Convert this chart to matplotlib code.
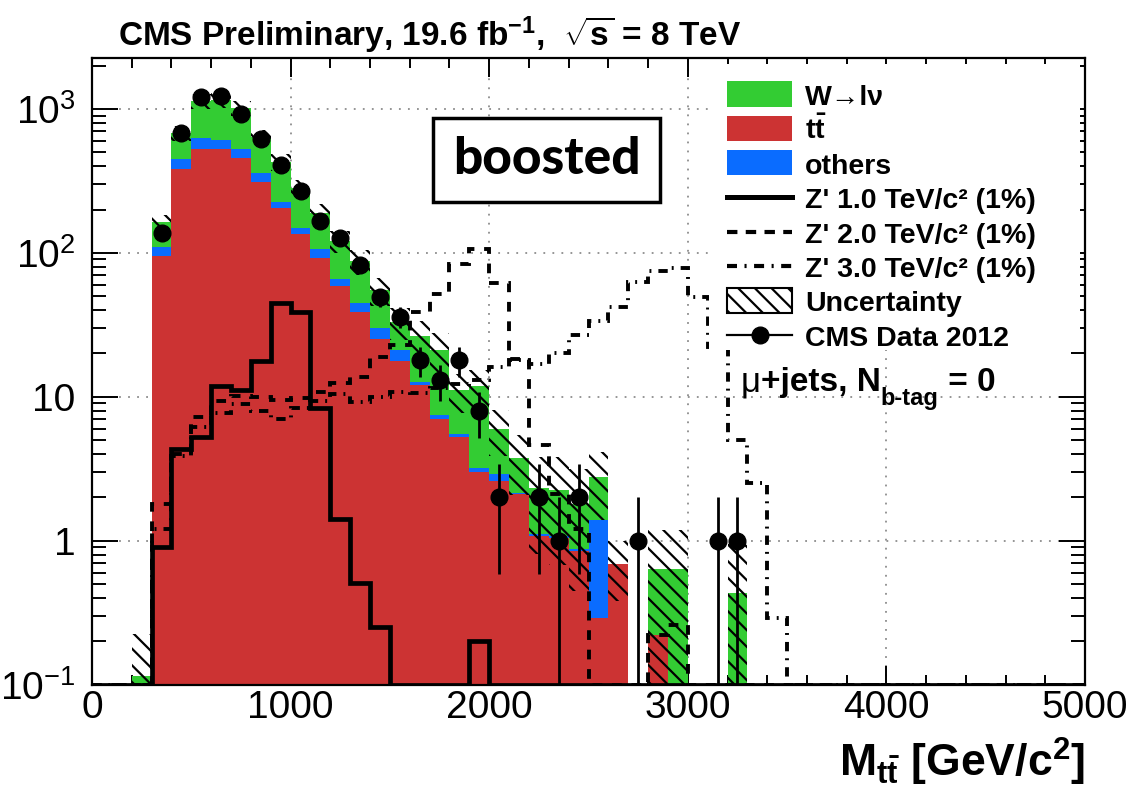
import numpy as np
import matplotlib
matplotlib.use("Agg")
import matplotlib.pyplot as plt
from matplotlib.lines import Line2D
from matplotlib.patches import Rectangle
from matplotlib.ticker import LogLocator, NullFormatter, FixedLocator, MultipleLocator

plt.rcParams['font.family'] = ['Liberation Sans', 'DejaVu Sans']
plt.rcParams['mathtext.fontset'] = 'custom'
plt.rcParams['mathtext.rm'] = 'Liberation Sans'
plt.rcParams['mathtext.bf'] = 'Liberation Sans:bold'
plt.rcParams['mathtext.it'] = 'Liberation Sans:italic'
plt.rcParams['hatch.linewidth'] = 1.6

# ---------------- data (100 GeV bins, lists start at the 200 GeV bin) -------------
BIN_WIDTH = 100
X_MAX = 5000
FIRST_EDGE = 200
Y_MIN, Y_MAX = 0.1, 2280

ttbar = [0, 95, 384, 525, 525, 456, 311, 205, 136, 92, 59, 39, 25, 17.6, 12.0, 7.0,
         5.25, 3.0, 2.6, 2.1, 1.08, 1.05, 0.85, 0.29, 0.69, 0, 0.22, 0, 0, 0, 0]
others = [0, 14, 65, 100, 83, 69, 46, 21, 13, 14, 7, 6, 5, 3.4, 0.6, 0.5,
          0.25, 0.2, 0.3, 0.05, 0.03, 0.03, 0.03, 1.09, 0, 0, 0, 0, 0, 0, 0]
wjets = [0.115, 55, 229, 512, 548, 486, 279, 204, 132, 82, 55, 42.5, 25, 12, 13.7, 13.8,
         5.6, 8.6, 3.1, 1.6, 1.2, 1.17, 0.92, 1.38, 0, 0, 0.42, 0.64, 0, 0, 0.43]
unc_rel = [0.95, 0.12, 0.12, 0.12, 0.12, 0.12, 0.13, 0.14, 0.15, 0.16, 0.18, 0.2, 0.22, 0.25, 0.28, 0.3,
           0.3, 0.3, 0.35, 0.45, 0.65, 0.7, 0.75, 0.5, 0.45, 0, 0.85, 0.85, 0, 0, 1.2]
data = [0, 138, 684, 1205, 1230, 924, 618, 405, 268, 166, 127, 83, 49, 36, 18, 13,
        18, 8, 2, 0, 2, 1, 2, 0, 0, 1, 0, 0, 0, 1, 1]
zprime_1000 = [0, 0.91, 4.3, 5.25, 11.9, 11.2, 17.6, 44.9, 38.8, 8.3, 1.42, 0.51, 0.25, 0, 0, 0,
               0, 0.2]
zprime_2000 = [0, 1.8, 4.0, 7.2, 9.4, 10.1, 10.0, 9.5, 9.8, 10.8, 12.4, 13.7, 19, 22.8, 39, 52,
               84, 107, 62, 18.4, 4.6, 2.1, 1.2, 0, 0, 0, 0.22, 0.26]
zprime_3000 = [0, 1.2, 3.9, 6.2, 7.7, 8.9, 8.0, 7.0, 8.3, 9.4, 10.5, 9.2, 10.0, 10.8, 10.7, 11.5,
               12.3, 13, 16, 18, 16.8, 20, 27, 33.6, 42, 63, 75, 78, 49, 22, 5.0, 2.5, 0.29]

legend_labels = ["W→lν", r"$\mathbf{t\bar{t}}$", "others",
                 "Z' 1.0 TeV/c² (1%)", "Z' 2.0 TeV/c² (1%)", "Z' 3.0 TeV/c² (1%)",
                 "Uncertainty", "CMS Data 2012"]

RED, BLUE, GREEN = '#CC3333', '#0A6CFF', '#33CC33'

edges = np.arange(0, X_MAX + BIN_WIDTH, BIN_WIDTH)
nbins = len(edges) - 1
centers = edges[:-1] + BIN_WIDTH / 2


def to_full(vals):
    arr = np.zeros(nbins)
    i0 = FIRST_EDGE // BIN_WIDTH
    arr[i0:i0 + len(vals)] = vals
    return arr


# ---------------- figure / axes geometry (pixels) -----------------
FIG_W, FIG_H = 1130, 792
AX_L, AX_R, AX_T, AX_B = 92, 1085, 57.5, 684.5

fig = plt.figure(figsize=(FIG_W / 100, FIG_H / 100), dpi=100)
ax = fig.add_axes([AX_L / FIG_W, 1 - AX_B / FIG_H, (AX_R - AX_L) / FIG_W, (AX_B - AX_T) / FIG_H])


def af(px, py):
    return ((px - AX_L) / (AX_R - AX_L), (AX_B - py) / (AX_B - AX_T))


ax.set_yscale('log')
ax.set_xlim(0, X_MAX)
ax.set_ylim(Y_MIN, Y_MAX)

# stacked backgrounds
tt = to_full(ttbar)
ot = to_full(others)
wj = to_full(wjets)
c1 = tt
c2 = tt + ot
c3 = c2 + wj
ax.stairs(c1, edges, baseline=1e-3, fill=True, color=RED, lw=0, zorder=1)
ax.stairs(c2, edges, baseline=c1, fill=True, color=BLUE, lw=0, zorder=1)
ax.stairs(c3, edges, baseline=c2, fill=True, color=GREEN, lw=0, zorder=1)

# uncertainty band
rel = to_full(unc_rel)
lo = np.clip(c3 * (1 - rel), 1e-3, None)
hi = c3 * (1 + rel)
m = c3 > 0
ax.bar(edges[:-1][m], (hi - lo)[m], bottom=lo[m], width=BIN_WIDTH, align='edge',
       fill=False, hatch='\\\\', edgecolor='black', linewidth=0, zorder=2)

# Z' signals
ax.stairs(np.maximum(to_full(zprime_1000), Y_MIN), edges, baseline=None,
          color='black', lw=3.4, zorder=3)
ax.stairs(np.maximum(to_full(zprime_2000), Y_MIN), edges, baseline=None,
          color='black', lw=2.8, linestyle=(0, (2.5, 2.5)), zorder=3)
ax.stairs(np.maximum(to_full(zprime_3000), Y_MIN), edges, baseline=None,
          color='black', lw=2.8, linestyle=(0, (2.4, 1.8, 0.5, 1.8)), zorder=3)

# data
d = to_full(data)
md = d > 0
ax.errorbar(centers[md], d[md], yerr=np.sqrt(d[md]), fmt='o', color='black', ms=12,
            elinewidth=2, capsize=0, zorder=5)

# axes styling
ax.set_axisbelow(True)
ax.grid(True, which='major', color='#8c8c8c', linestyle=(0, (1, 4)), linewidth=1.3)
ax.set_xticks(np.arange(0, X_MAX + 1, 1000))
ax.xaxis.set_minor_locator(MultipleLocator(200))
ax.yaxis.set_major_locator(FixedLocator([0.1, 1, 10, 100, 1000]))
ax.set_yticklabels([r'$10^{-1}$', '1', '10', r'$10^{2}$', r'$10^{3}$'])
ax.yaxis.set_minor_locator(LogLocator(base=10, subs=np.arange(2, 10)))
ax.yaxis.set_minor_formatter(NullFormatter())
ax.tick_params(which='both', direction='in', top=True, right=True, width=1.4,
               labelsize=28, colors='black')
ax.tick_params(axis='y', which='major', length=19, pad=12)
ax.tick_params(axis='y', which='minor', length=10)
ax.tick_params(axis='x', which='major', length=14, pad=4)
ax.tick_params(axis='x', which='minor', length=7)
for s in ax.spines.values():
    s.set_linewidth(1.6)

ax.set_xlabel(r"$\mathbf{M_{t\bar{t}}}$ [GeV/c$^{\mathbf{2}}$]", fontsize=32, fontweight='bold',
              ha='right', va='baseline')
ax.xaxis.set_label_coords(1.0, af(0, 777)[1])

# title
fig.text(118 / FIG_W, 1 - 46 / FIG_H,
         r"CMS Preliminary, 19.6 fb$^{\mathbf{-1}}$,  $\sqrt{\mathbf{s}}$ = 8 TeV",
         fontsize=24, fontweight='bold', ha='left', va='baseline')

# "boosted" box
bx0, by0 = af(433, 202)
bx1, by1 = af(660, 118)
ax.add_patch(Rectangle((bx0, by0), bx1 - bx0, by1 - by0, transform=ax.transAxes,
                       fill=True, facecolor='white', edgecolor='black', lw=2.5, zorder=6))
ax.text((bx0 + bx1) / 2, (by0 + by1) / 2, "boosted", transform=ax.transAxes,
        ha='center', va='center', fontsize=37, fontweight='black', family=['Lato', 'DejaVu Sans'],
        zorder=7)

# legend (white background, no border)
lx0, ly0 = af(709, 350)
ax.add_patch(Rectangle((lx0, ly0), 0.995 - lx0, 0.99 - ly0, transform=ax.transAxes,
                       facecolor='white', edgecolor='none', zorder=6))
kx0 = af(727, 0)[0]
kx1 = af(792, 0)[0]
tx = af(805, 0)[0]
row_px = [94 + 34.4 * i for i in range(8)]
key_h = 25 / (AX_B - AX_T)
for i, lab in enumerate(legend_labels):
    yc = af(0, row_px[i])[1]
    if i < 3:
        col = [GREEN, RED, BLUE][i]
        ax.add_patch(Rectangle((kx0, yc - key_h / 2), kx1 - kx0, key_h, transform=ax.transAxes,
                               facecolor=col, edgecolor='none', zorder=7, clip_on=False))
    elif i < 6:
        ls = ['-', (0, (2.5, 2.0)), (0, (2.4, 1.8, 0.5, 1.8))][i - 3]
        lw = [3.6, 3.0, 3.0][i - 3]
        ax.add_line(Line2D([kx0, kx1], [yc, yc], transform=ax.transAxes, color='black',
                           lw=lw, linestyle=ls, zorder=7, clip_on=False))
    elif i == 6:
        ax.add_patch(Rectangle((kx0, yc - key_h / 2), kx1 - kx0, key_h, transform=ax.transAxes,
                               fill=False, hatch='\\\\', edgecolor='black', lw=1.5, zorder=7,
                               clip_on=False))
    else:
        ax.add_line(Line2D([kx0, kx1], [yc, yc], transform=ax.transAxes, color='black',
                           lw=1.6, zorder=7, clip_on=False))
        ax.add_line(Line2D([(kx0 + kx1) / 2], [yc], transform=ax.transAxes, color='black',
                           marker='o', ms=12, zorder=8, clip_on=False))
    ax.text(tx, yc - 11 / (AX_B - AX_T), lab, transform=ax.transAxes, fontsize=20.5,
            fontweight='bold', ha='left', va='baseline', zorder=8)

# mu+jets, N_b-tag = 0
yb = af(0, 391)[1]
t = ax.text(af(741, 0)[0], yb, "μ", transform=ax.transAxes, fontsize=25, ha='left',
            va='baseline', zorder=8)
t = ax.annotate("+jets, N", xy=(1, yb), xycoords=(t, 'axes fraction'), fontsize=24,
                fontweight='bold', ha='left', va='baseline', zorder=8)
t = ax.annotate("b-tag", xy=(1, yb), xycoords=(t, 'axes fraction'), xytext=(0, -10),
                textcoords='offset points', fontsize=17, fontweight='bold', ha='left',
                va='baseline', zorder=8)
ax.annotate(" = 0", xy=(1, yb), xycoords=(t, 'axes fraction'), fontsize=24,
            fontweight='bold', ha='left', va='baseline', zorder=8)

fig.savefig('out.png', dpi=100)
